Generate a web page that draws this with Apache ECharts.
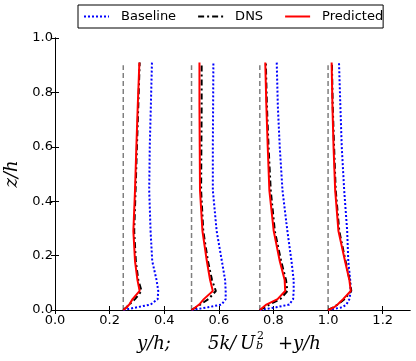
<!DOCTYPE html>
<html lang="en">
<head>
    <meta charset="UTF-8">
    <title>k profiles</title>
    <style>
        html, body { margin: 0; padding: 0; background: #fff; }
    </style>
</head>
<body>
<script src="https://cdn.jsdelivr.net/npm/echarts@6/dist/echarts.min.js"></script>
<div id="main" style="width: 416px;height:361px;"></div>
<script>
    // z/h levels shared by every profile
    var zLevels = [0, 0.01, 0.02, 0.04, 0.07, 0.11, 0.18, 0.29, 0.44, 0.6, 0.75, 0.91];
    // station offsets (y/h)
    var stations = [0.25, 0.5, 0.75, 1.0];
    var refTop = 0.9;

    // 5k/Ub^2 + y/h, one array per station
    var baseline = [
        [0.25, 0.30, 0.35, 0.376, 0.378, 0.372, 0.356, 0.350, 0.345, 0.347, 0.351, 0.355],
        [0.5, 0.56, 0.61, 0.625, 0.625, 0.623, 0.611, 0.592, 0.578, 0.578, 0.579, 0.580],
        [0.75, 0.81, 0.858, 0.872, 0.874, 0.874, 0.866, 0.851, 0.833, 0.823, 0.816, 0.812],
        [1.0, 1.052, 1.067, 1.078, 1.083, 1.081, 1.074, 1.070, 1.059, 1.050, 1.045, 1.040]
    ];
    var dns = [
        [0.25, 0.262, 0.272, 0.293, 0.317, 0.305, 0.296, 0.290, 0.295, 0.300, 0.305, 0.310],
        [0.5, 0.516, 0.532, 0.562, 0.589, 0.575, 0.560, 0.543, 0.535, 0.536, 0.537, 0.537],
        [0.75, 0.768, 0.785, 0.825, 0.851, 0.846, 0.828, 0.805, 0.790, 0.782, 0.776, 0.772],
        [1.0, 1.02, 1.035, 1.06, 1.085, 1.079, 1.064, 1.041, 1.028, 1.022, 1.017, 1.014]
    ];
    var predicted = [
        [0.25, 0.262, 0.272, 0.284, 0.310, 0.302, 0.293, 0.287, 0.293, 0.298, 0.303, 0.309],
        [0.5, 0.515, 0.528, 0.545, 0.578, 0.568, 0.556, 0.540, 0.531, 0.530, 0.529, 0.529],
        [0.75, 0.762, 0.774, 0.815, 0.843, 0.841, 0.823, 0.801, 0.785, 0.779, 0.774, 0.770],
        [1.0, 1.022, 1.035, 1.055, 1.083, 1.078, 1.062, 1.038, 1.026, 1.020, 1.016, 1.013]
    ];

    var xTicks = [0, 0.2, 0.4, 0.6, 0.8, 1.0, 1.2];

    var pairs = function (xs) {
        return xs.map(function (x, i) { return [x, zLevels[i]]; });
    };

    var series = [];
    stations.forEach(function (s) {
        series.push({
            name: 'ref', type: 'line', symbol: 'none', silent: true,
            lineStyle: { color: '#7f7f7f', width: 1.5, type: [5, 3] },
            data: [[s, 0], [s, refTop]]
        });
    });
    var addGroup = function (name, arrs, style) {
        arrs.forEach(function (a) {
            series.push({
                name: name, type: 'line', symbol: 'none', silent: true,
                lineStyle: style, itemStyle: { color: style.color },
                data: pairs(a)
            });
        });
    };
    addGroup('Baseline', baseline, { color: '#0000ff', width: 2, type: [2, 2] });
    addGroup('DNS', dns, { color: '#000000', width: 2, type: [6, 3, 2, 3] });
    addGroup('Predicted', predicted, { color: '#ff0000', width: 2, type: 'solid' });

    var tickFont = { fontFamily: 'DejaVu Sans', fontSize: 13, color: '#000' };
    var mathFont = 'italic 18px "DejaVu Serif"';

    var chart = echarts.init(document.getElementById('main'));
    chart.setOption({
        animation: false,
        backgroundColor: '#fff',
        grid: { left: 55, top: 38, right: 6, bottom: 51, outerBoundsMode: 'none', containLabel: false },
        legend: {
            data: ['Baseline', 'DNS', 'Predicted'],
            left: 78, top: 5,
            padding: [5, 0, 5, 5],
            borderColor: '#000', borderWidth: 1, borderRadius: 0,
            itemWidth: 25, itemHeight: 10, itemGap: 21,
            itemStyle: { opacity: 0 },
            textStyle: { fontFamily: 'DejaVu Sans', fontSize: 13, color: '#000', padding: [0, 0, 0, 7] }
        },
        xAxis: [
            {
                type: 'value', min: 0, max: 1.3, position: 'bottom',
                axisLine: { lineStyle: { color: '#000', width: 1 } },
                axisTick: { inside: true, length: 4, customValues: xTicks, lineStyle: { color: '#000' } },
                axisLabel: Object.assign({ customValues: xTicks, margin: 4,
                    formatter: function (v) { return v.toFixed(1); } }, tickFont),
                splitLine: { show: false }
            },
            {
                type: 'value', min: 0, max: 1.3, position: 'top',
                axisLine: { lineStyle: { color: '#000', width: 1 } },
                axisTick: { inside: true, length: 4, customValues: xTicks, lineStyle: { color: '#000' } },
                axisLabel: { show: false },
                splitLine: { show: false }
            }
        ],
        yAxis: [
            {
                type: 'value', min: 0, max: 1, interval: 0.2, position: 'left',
                name: 'z/h', nameLocation: 'middle', nameGap: 28,
                nameTextStyle: { fontFamily: 'DejaVu Serif', fontStyle: 'italic', fontSize: 18, color: '#000' },
                axisLine: { lineStyle: { color: '#000', width: 1 } },
                axisTick: { inside: true, length: 4, lineStyle: { color: '#000' } },
                axisLabel: Object.assign({ margin: 2,
                    formatter: function (v) { return v.toFixed(1); } }, tickFont),
                splitLine: { show: false }
            },
            {
                type: 'value', min: 0, max: 1, interval: 0.2, position: 'right',
                axisLine: { lineStyle: { color: '#000', width: 1 } },
                axisTick: { inside: true, length: 4, lineStyle: { color: '#000' } },
                axisLabel: { show: false },
                splitLine: { show: false }
            }
        ],
        graphic: [
            { type: 'text', left: 137, top: 335, style: { text: 'y/h;', font: mathFont, fill: '#000' } },
            { type: 'text', left: 208, top: 335, style: { text: '5k', font: mathFont, fill: '#000' } },
            { type: 'text', left: 230, top: 335, style: { text: '/', font: mathFont, fill: '#000' } },
            { type: 'text', left: 240, top: 335, style: { text: 'U', font: mathFont, fill: '#000' } },
            { type: 'text', left: 257, top: 331, style: { text: '2', font: '11px "DejaVu Serif"', fill: '#000' } },
            { type: 'text', left: 256, top: 341, style: { text: 'b', font: 'italic 11px "DejaVu Serif"', fill: '#000' } },
            { type: 'text', left: 278, top: 335, style: { text: '+y/h', font: mathFont, fill: '#000' } }
        ],
        series: series
    });
</script>
</body>
</html>
